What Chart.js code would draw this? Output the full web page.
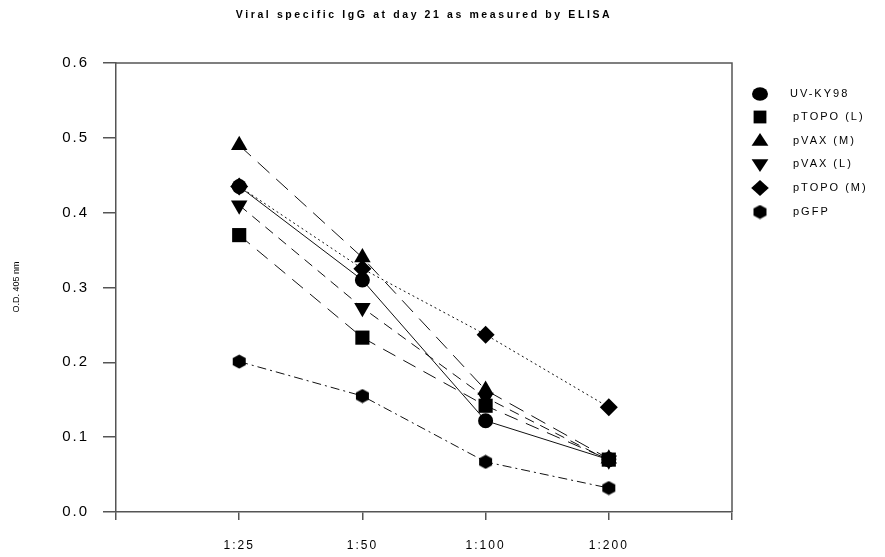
<!DOCTYPE html>
<html>
<head>
<meta charset="utf-8">
<script src="https://cdn.jsdelivr.net/npm/chart.js@4.4.0/dist/chart.umd.min.js"></script>
<style>
  html, body { margin: 0; padding: 0; background: #fff; }
  #wrap { width: 885px; height: 557px; position: relative; }
</style>
</head>
<body>
<div id="wrap"><canvas id="chart" width="885" height="557"></canvas></div>
<script>
// dilutions on the x axis (positions 1..4)
const dilutions = ["1:25", "1:50", "1:100", "1:200"];
const yTicks = [0.0, 0.1, 0.2, 0.3, 0.4, 0.5, 0.6];

const seriesNames = ["UV-KY98", "pTOPO (L)", "pVAX (M)", "pVAX (L)", "pTOPO (M)", "pGFP"];
const uvKy98 = [0.435, 0.31, 0.122, 0.07];
const pTopoL = [0.37, 0.233, 0.142, 0.07];
const pVaxM = [0.49, 0.34, 0.163, 0.071];
const pVaxL = [0.41, 0.273, 0.153, 0.069];
const pTopoM = [0.435, 0.325, 0.237, 0.14];
const pGfp = [0.201, 0.155, 0.067, 0.032];

// hexagon marker
function hexagon(size) {
    const c = document.createElement("canvas");
    c.width = size; c.height = size;
    const g = c.getContext("2d");
    const r = size / 2;
    g.beginPath();
    for (let i = 0; i < 6; i++) {
        const a = Math.PI / 2 + i * Math.PI / 3;
        const px = r + r * Math.cos(a) * 1.0;
        const py = r + r * Math.sin(a) * 0.92;
        if (i === 0) g.moveTo(px, py); else g.lineTo(px, py);
    }
    g.closePath();
    g.fillStyle = "#000";
    g.fill();
    return c;
}
const hexImg = hexagon(15);

const ink = "#111";
const styles = [
    { values: uvKy98, pointStyle: "circle", radius: 7.5, rotation: 0, dash: [] },
    { values: pTopoL, pointStyle: "rect", radius: 10, rotation: 0, dash: [14, 9] },
    { values: pVaxM, pointStyle: "triangle", radius: 9.5, rotation: 0, dash: [16, 9] },
    { values: pVaxL, pointStyle: "triangle", radius: 9.5, rotation: 180, dash: [10, 7] },
    { values: pTopoM, pointStyle: "rectRot", radius: 9, rotation: 0, dash: [2, 3] },
    { values: pGfp, pointStyle: hexImg, radius: 8, rotation: 0, dash: [9, 4, 2, 4] }
];

const datasets = styles.map((s, i) => ({
    label: seriesNames[i],
    data: s.values.map((v, j) => ({ x: j + 1, y: v })),
    borderColor: ink,
    borderWidth: 1,
    borderDash: s.dash,
    backgroundColor: "#000",
    pointStyle: s.pointStyle,
    pointRadius: s.radius,
    pointRotation: s.rotation,
    pointBorderWidth: 0,
    pointHoverRadius: s.radius,
    tension: 0
}));

function marker(ctx, style, x, y, r) {
    ctx.save();
    ctx.fillStyle = "#000";
    ctx.beginPath();
    if (style === "circle") {
        ctx.ellipse(x, y, r, r * 0.85, 0, 0, Math.PI * 2);
    } else if (style === "rect") {
        ctx.rect(x - r * 0.8, y - r * 0.8, r * 1.6, r * 1.6);
    } else if (style === "up") {
        ctx.moveTo(x, y - r); ctx.lineTo(x + r * 1.05, y + r * 0.6); ctx.lineTo(x - r * 1.05, y + r * 0.6);
    } else if (style === "down") {
        ctx.moveTo(x, y + r); ctx.lineTo(x + r * 1.05, y - r * 0.6); ctx.lineTo(x - r * 1.05, y - r * 0.6);
    } else if (style === "diamond") {
        ctx.moveTo(x, y - r); ctx.lineTo(x + r * 1.1, y); ctx.lineTo(x, y + r); ctx.lineTo(x - r * 1.1, y);
    } else {
        ctx.drawImage(hexImg, x - 7.5, y - 7.5);
    }
    ctx.closePath();
    ctx.fill();
    ctx.restore();
}

const legendShapes = ["circle", "rect", "up", "down", "diamond", "hex"];
const legendRows = [94, 117, 141, 164, 188, 212];

const decor = {
    id: "decor",
    beforeDraw(chart) {
        chart.ctx.letterSpacing = "2px";
    },
    afterDraw(chart) {
        const ctx = chart.ctx;
        const a = chart.chartArea;
        ctx.save();
        // frame top and right
        ctx.strokeStyle = "#555";
        ctx.lineWidth = 1.5;
        ctx.beginPath();
        ctx.moveTo(a.left, a.top);
        ctx.lineTo(a.right, a.top);
        ctx.lineTo(a.right, a.bottom);
        ctx.stroke();

        ctx.fillStyle = "#000";
        ctx.letterSpacing = "2.6px";
        ctx.font = "bold 10.5px Arial, 'Liberation Sans', sans-serif";
        ctx.textAlign = "center";
        ctx.textBaseline = "middle";
        ctx.fillText("Viral specific IgG at day 21 as measured by ELISA", 424, 15);

        // y axis title
        ctx.letterSpacing = "0px";
        ctx.save();
        ctx.translate(17, 287);
        ctx.rotate(-Math.PI / 2);
        ctx.font = "9px Arial, 'Liberation Sans', sans-serif";
        ctx.fillText("O.D. 405 nm", 0, 0);
        ctx.restore();

        // legend
        ctx.letterSpacing = "2px";
        ctx.font = "11px Arial, 'Liberation Sans', sans-serif";
        ctx.textAlign = "left";
        seriesNames.forEach((name, i) => {
            const y = legendRows[i];
            marker(ctx, legendShapes[i], 760, y, 8);
            ctx.fillText(name, i === 0 ? 790 : 793, y);
        });
        ctx.restore();
    }
};

new Chart(document.getElementById("chart"), {
    type: "line",
    data: { datasets },
    options: {
        responsive: false,
        animation: false,
        layout: { padding: { left: 0, top: 63, right: 153, bottom: 0 } },
        plugins: { legend: { display: false }, title: { display: false }, tooltip: { enabled: false } },
        scales: {
            x: {
                type: "linear",
                min: 0,
                max: 5,
                afterFit: (s) => { s.height = 45; },
                afterBuildTicks: (s) => { s.ticks = [0, 1, 2, 3, 4, 5].map(v => ({ value: v })); },
                ticks: {
                    color: "#000",
                    padding: 18,
                    maxRotation: 0,
                    autoSkip: false,
                    font: { family: "Arial, 'Liberation Sans', sans-serif", size: 12 },
                    callback: (v) => (v >= 1 && v <= 4 ? dilutions[v - 1] : "")
                },
                grid: { drawOnChartArea: false, tickLength: 8, color: "#555", lineWidth: 1.5 },
                border: { color: "#555", width: 1.5 }
            },
            y: {
                min: 0,
                max: 0.6,
                afterFit: (s) => { s.width = 116; },
                afterBuildTicks: (s) => { s.ticks = yTicks.map(v => ({ value: v })); },
                ticks: {
                    color: "#000",
                    padding: 14,
                    font: { family: "Arial, 'Liberation Sans', sans-serif", size: 15 },
                    callback: (v) => v.toFixed(1)
                },
                grid: { drawOnChartArea: false, tickLength: 13, color: "#555", lineWidth: 1.5 },
                border: { color: "#555", width: 1.5 }
            }
        }
    },
    plugins: [decor]
});
</script>
</body>
</html>
